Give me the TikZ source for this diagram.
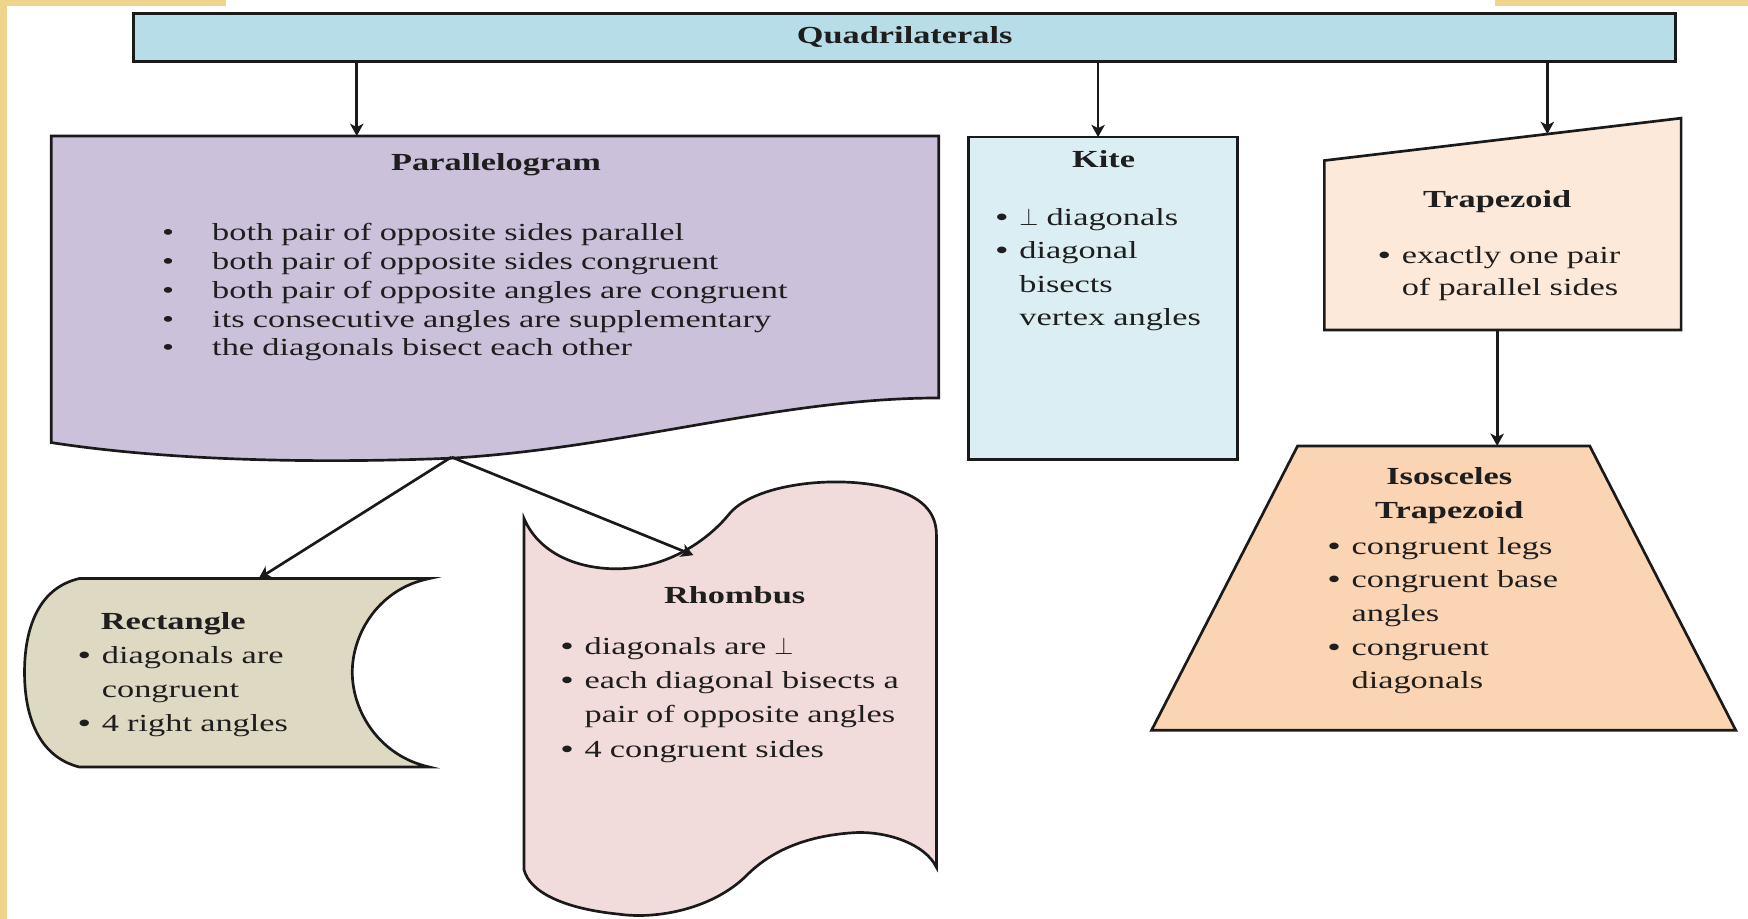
\documentclass[tikz,border=0pt]{standalone}
\usepackage{fontspec}
\setmainfont{Liberation Serif}[FakeStretch=1.4]
\usetikzlibrary{arrows.meta}
\definecolor{barc}{HTML}{B7DEE8}
\definecolor{parac}{HTML}{CCC1DA}
\definecolor{kitec}{HTML}{DBEEF4}
\definecolor{trapc}{HTML}{FDE9D9}
\definecolor{isoc}{HTML}{FBD4B4}
\definecolor{rectc}{HTML}{DDD9C3}
\definecolor{rhomc}{HTML}{F2DCDB}
\definecolor{linec}{HTML}{1A1A1A}
\definecolor{goldc}{HTML}{EFD48C}
\definecolor{txtc}{HTML}{1E1E1E}
\newcommand{\bl}{\makebox[10.5pt][l]{\bfseries •}}
\newcommand{\ind}{\makebox[10.5pt]{}}
\newcommand{\pbl}{\makebox[22.5pt][l]{•}}
\begin{document}
\begin{tikzpicture}[x=0.5pt,y=-0.5pt,
  box/.style={draw=linec, line width=1.2pt, line join=miter},
  arr/.style={draw=linec, line width=1.2pt, -{Stealth[length=5.5pt,width=6pt,inset=1.5pt]}},
  ttl/.style={font=\fontsize{11}{15}\selectfont\bfseries, inner sep=0, anchor=base, text=txtc},
  body/.style={font=\fontsize{11}{15}\selectfont, inner sep=0, anchor=base west, align=left, text width=#1, text=txtc}]
% background
\fill[white] (0,0) rectangle (1568,824);
\fill[goldc] (0,0) rectangle (6,824);
\fill[goldc] (0,0) rectangle (203,5);
\fill[goldc] (1341,0) rectangle (1568,5);
\useasboundingbox (0,0) rectangle (1568,824);

% top bar
\node[box, fill=barc, minimum width=691.5pt, minimum height=21.5pt, inner sep=0,
      font=\fontsize{11}{15}\selectfont\bfseries, text=txtc] (quad) at (811.5,33.5) {Quadrilaterals};

% parallelogram
\draw[box, fill=parac] (46,122) -- (842,122) -- (842,357)
  .. controls (700,357) and (560,402) .. (405,411)
  .. controls (280,416) and (150,413) .. (46,397) -- cycle;
\coordinate (paratop) at (320,122);
\coordinate (parabot) at (405,410);
\node[ttl] (parat) at (445,153) {Parallelogram};
\node[body=300pt, font=\fontsize{11}{12.9}\selectfont] (parab) at (145,216)
  {\pbl both pair of opposite sides parallel\\
   \pbl both pair of opposite sides congruent\\
   \pbl both pair of opposite angles are congruent\\
   \pbl its consecutive angles are supplementary\\
   \pbl the diagonals bisect each other};

% kite
\node[box, fill=kitec, minimum width=120.5pt, minimum height=144.5pt, inner sep=0] (kite) at (989.5,267.5) {};
\coordinate (kitetop) at (985,123);
\node[ttl] (kitet) at (990,150) {Kite};
\node[body=110pt] (kiteb) at (893,202)
  {\bl$\perp$ diagonals\\
   \bl diagonal\\
   \ind bisects\\
   \ind vertex angles};

% trapezoid
\draw[box, fill=trapc] (1188,144) -- (1508,106) -- (1508,296) -- (1188,296) -- cycle;
\coordinate (traptop) at (1388,120.25);
\coordinate (trapbot) at (1343,296);
\node[ttl] (trapt) at (1343,186) {Trapezoid};
\node[body=110pt, font=\fontsize{11}{14.6}\selectfont] (trapb) at (1236,236)
  {\bl exactly one pair\\
   \ind of parallel sides};

% isosceles trapezoid
\draw[box, fill=isoc] (1164,400) -- (1426,400) -- (1557,655) -- (1033,655) -- cycle;
\coordinate (isotop) at (1343,400);
\node[ttl, text width=90pt, align=center] (isot) at (1300,435) {Isosceles\\Trapezoid};
\node[body=120pt, font=\fontsize{11}{15.1}\selectfont] (isob) at (1191,497)
  {\bl congruent legs\\
   \bl congruent base\\
   \ind angles\\
   \bl congruent\\
   \ind diagonals};

% rectangle
\draw[box, fill=rectc] (71,519) -- (385,519)
  .. controls (340,528) and (316,568) .. (316,603)
  .. controls (316,638) and (340,678) .. (385,688)
  -- (71,688)
  .. controls (32,678) and (22,638) .. (22,603)
  .. controls (22,568) and (32,528) .. (71,519) -- cycle;
\coordinate (recttop) at (232,519);
\node[ttl, anchor=base west] (rectt) at (90,565) {Rectangle};
\node[body=120pt, font=\fontsize{11}{15.3}\selectfont] (rectb) at (70,595)
  {\bl diagonals are\\
   \ind congruent\\
   \bl 4 right angles};

% rhombus
\draw[box, fill=rhomc] (470,465)
  .. controls (485,500) and (525,512) .. (560,510)
  .. controls (600,508) and (635,485) .. (655,460)
  .. controls (680,432) and (760,425) .. (805,440)
  .. controls (830,448) and (840,462) .. (840,480)
  -- (840,778)
  .. controls (830,757) and (795,745) .. (765,747)
  .. controls (720,750) and (690,765) .. (670,785)
  .. controls (640,815) and (590,825) .. (555,820)
  .. controls (505,815) and (475,800) .. (470,780)
  -- cycle;
\coordinate (rhomtop) at (622,498);
\node[ttl] (rhomt) at (659,541) {Rhombus};
\node[body=170pt, font=\fontsize{11}{15.35}\selectfont] (rhomb) at (503,587)
  {\bl diagonals are $\perp$\\
   \bl each diagonal bisects a\\
   \ind pair of opposite angles\\
   \bl 4 congruent sides};

% connectors
\draw[arr] (quad.south -| paratop) -- (paratop);
\draw[arr] (quad.south -| kitetop) -- (kitetop);
\draw[arr] (quad.south -| traptop) -- (traptop);
\draw[arr] (trapbot) -- (isotop);
\draw[arr] (parabot) -- (recttop);
\draw[arr] (parabot) -- (rhomtop);
\end{tikzpicture}
\end{document}
